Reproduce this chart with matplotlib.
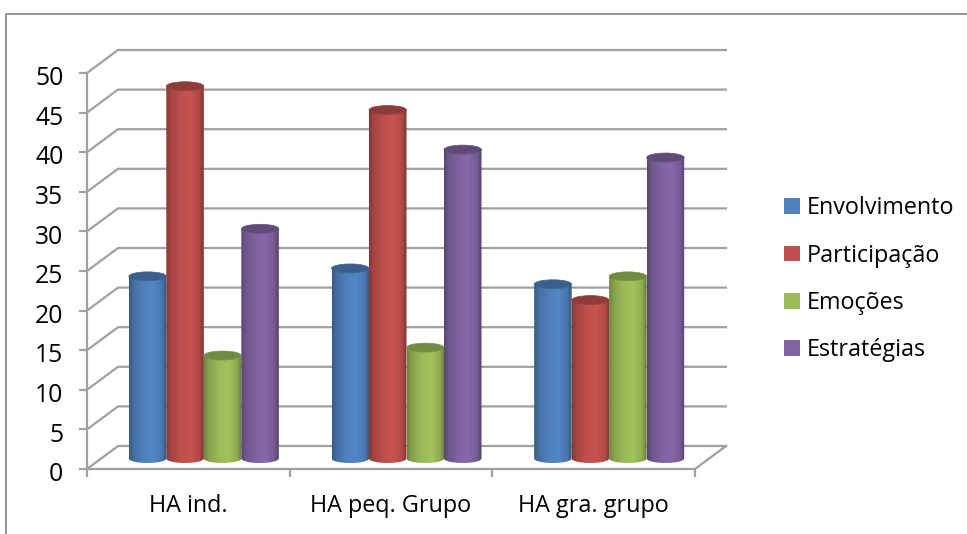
import numpy as np
import matplotlib
matplotlib.use("Agg")
import matplotlib.pyplot as plt
from matplotlib.patches import Ellipse, PathPatch, Patch
from matplotlib.path import Path
from matplotlib.lines import Line2D
from matplotlib.transforms import ScaledTranslation

plt.rcParams['font.family'] = ['Open Sans', 'DejaVu Sans']

categories = ["HA ind.", "HA peq. Grupo", "HA gra. grupo"]
envolvimento = [23, 24, 22]
participacao = [47, 44, 20]
emocoes = [13, 14, 23]
estrategias = [29, 39, 38]
series_names = ["Envolvimento", "Participação", "Emoções", "Estratégias"]
series_values = [envolvimento, participacao, emocoes, estrategias]
series_colors = ["#4F81BD", "#C0504D", "#9BBB59", "#8064A2"]
y_ticks = list(range(0, 55, 5))

GRID = "#A0A0A0"
W, H = 967, 534

fig = plt.figure(figsize=(W / 100, H / 100), dpi=100)
ax = fig.add_axes([87 / W, (H - 469) / H, 608 / W, 396 / H])
ax.set_xlim(0, 3)
ax.set_ylim(0, 50)

# depth of the fake 3d box, in data units
depth_x = 31 / (608 / 3)
depth_y = 23 / (396 / 50)

# walls and floor
for v in y_ticks:
    ax.plot([0, depth_x, 3 + depth_x], [v, v + depth_y, v + depth_y],
            color=GRID, lw=1.6, clip_on=False, zorder=1)
ax.plot([3, 3 + depth_x], [0, depth_y], color=GRID, lw=1.6, clip_on=False, zorder=1)

# axes
for side in ["top", "right"]:
    ax.spines[side].set_visible(False)
for side in ["left", "bottom"]:
    ax.spines[side].set_color(GRID)
    ax.spines[side].set_linewidth(1.6)
ax.patch.set_alpha(0)
ax.set_yticks(y_ticks)
ax.set_xticks([0, 1, 2, 3])
ax.set_xticklabels([])
ax.set_xticks([0.5, 1.5, 2.5], minor=True)
ax.set_xticklabels(categories, minor=True, fontsize=16.8)
ax.tick_params(axis="x", which="major", length=6, width=1.6, color=GRID)
ax.tick_params(axis="x", which="minor", length=0, pad=18, labelcolor="black")
ax.tick_params(axis="y", length=6, width=1.6, color=GRID, pad=11, labelsize=17.8)
for lab in ax.get_yticklabels():
    lab.set_transform(lab.get_transform() + ScaledTranslation(0, -2 / 72, fig.dpi_scale_trans))


def cylinder(x0, w, y0, y1, color, z):
    # body with horizontal shading, clipped to a cylinder outline
    rgb = np.array(matplotlib.colors.to_rgb(color))
    ry = 4.5 / (396 / 50)
    xc = x0 + w / 2
    t = np.linspace(0, np.pi, 40)
    xs = xc - np.cos(t) * w / 2
    ys = y0 - np.sin(t) * ry
    verts = list(zip(xs, ys)) + [(x0 + w, y1), (x0, y1), (x0, y0)]
    path = Path(verts)
    u = np.linspace(0, 1, 128)
    shade = np.interp(u, [0, 0.12, 0.4, 0.65, 0.87, 1], [0.7, 0.86, 1.0, 1.04, 0.92, 0.66])
    img = np.clip(shade[None, :, None] * rgb[None, None, :], 0, 1)
    im = ax.imshow(img, extent=[x0, x0 + w, y0 - ry, y1], aspect="auto",
                   zorder=z, clip_on=True)
    im.set_clip_path(PathPatch(path, transform=ax.transData))
    ax.add_patch(Ellipse((xc, y1), w, 2 * ry, fc=rgb * 0.74, ec=rgb * 0.8,
                         lw=0.5, zorder=z + 0.1, clip_on=False))


bar_w = 37.5 / (608 / 3)
base = depth_y * 0.5 - 1 / (396 / 50)
for g in range(len(categories)):
    for s, vals in enumerate(series_values):
        x0 = g + 0.5 - 2 * bar_w + s * bar_w + depth_x * 0.5
        cylinder(x0, bar_w, base, base + vals[g], series_colors[s], 3 + g * 4 + s)

ax.set_xlim(0, 3)
ax.set_ylim(0, 50)

# legend
handles = [Patch(fc=c, ec="none") for c in series_colors]
fig.legend(handles, series_names, loc="upper left",
           bbox_to_anchor=(775 / W, 1 - 187 / H), frameon=False, fontsize=16.8,
           handlelength=0.65, handleheight=0.65, handletextpad=0.3,
           labelspacing=1.0, borderpad=0.4, borderaxespad=0)

# chart frame, runs off the right and bottom of the image
fig.add_artist(Line2D([6 / W, 6 / W, 1], [0, 1 - 13.5 / H, 1 - 13.5 / H],
                      color="#8E8E8E", lw=1.3))

fig.savefig("out.png", dpi=100)
